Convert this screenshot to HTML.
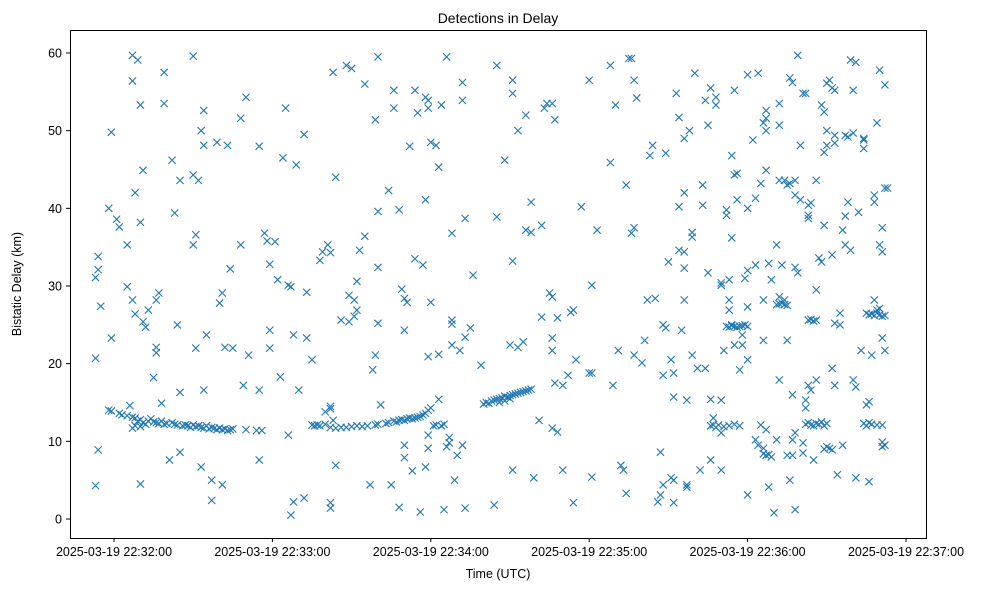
<!DOCTYPE html>
<html><head><meta charset="utf-8"><style>
body{margin:0;background:#fff;}
svg{display:block;font-family:"Liberation Sans","DejaVu Sans",sans-serif;}
</style></head><body>
<svg id="chart" width="987" height="590" viewBox="0 0 987 590">
<rect width="987" height="590" fill="#fff"/>
<text x="498" y="23" text-anchor="middle" font-size="14">Detections in Delay</text>
<text x="498" y="578" text-anchor="middle" font-size="12.5">Time (UTC)</text>
<text transform="translate(21,284) rotate(-90)" text-anchor="middle" font-size="12.5">Bistatic Delay (km)</text>
<g id="marks"></g>
<g id="axes"></g>
<rect x="70.5" y="30.5" width="856" height="508" fill="none" stroke="#000" stroke-width="1"/>
</svg>
<script>
const xTickSeconds=[0,60,120,180,240,300];
const xTickLabels=["2025-03-19 22:32:00","2025-03-19 22:33:00","2025-03-19 22:34:00","2025-03-19 22:35:00","2025-03-19 22:36:00","2025-03-19 22:37:00"];
const yTicks=[0,10,20,30,40,50,60];
const noisePoints=[[-7,4.3],[-7,20.7],[-7,31.1],[-6,32.1],[-6,33.8],[-5,27.4],[-6,8.9],[-2,40.0],[-1,49.8],[-1,23.3],[1,38.6],[2,37.6],[5,35.3],[5,29.9],[7,59.7],[7,56.4],[9,59.1],[10,53.3],[11,44.9],[8,42],[10,38.2],[7,28.2],[8,26.4],[11,25.4],[12,24.7],[13,26.9],[16,28.2],[17,29.1],[16,22.1],[16,21.4],[15,18.2],[19,57.5],[19,53.5],[18,14.9],[10,4.5],[21,7.6],[22,46.2],[23,39.4],[24,25.0],[25,8.6],[25,16.3],[25,43.6],[30,59.6],[30,44.3],[32,43.6],[30,35.3],[31,36.6],[31,22.0],[33,50.0],[34,52.6],[34,48.1],[35,23.7],[37,2.4],[37,5.0],[39,48.5],[41,29.1],[40,27.8],[41,4.4],[42,22.1],[33,6.7],[34,16.6],[43,48.1],[44,32.2],[45,22.0],[48,35.3],[48,51.6],[50,54.3],[51,21.1],[49,17.2],[55,48.0],[55,16.6],[55,7.6],[57,36.8],[58,35.8],[59,32.8],[59,22.0],[59,24.3],[61,35.7],[62,30.8],[63,18.3],[64,46.5],[65,52.9],[66,10.8],[66,30.1],[67,29.9],[69,45.6],[68,23.7],[67,0.5],[68,2.2],[70,16.6],[72,49.5],[72,2.7],[73,23.3],[73,29.2],[75,20.5],[78,33.3],[79,34.4],[81,35.3],[82,34.3],[83,57.5],[84,44.0],[82,14.5],[83,12.7],[84,6.9],[82,1.4],[82,2.1],[86,25.6],[88,58.4],[90,58.0],[89,28.8],[91,28.2],[91,26.1],[92,26.9],[89,25.4],[93,34.6],[92,30.6],[95,56.0],[95,36.4],[97,4.4],[98,19.2],[99,51.4],[99,21.1],[100,59.5],[100,39.6],[100,32.4],[100,25.2],[101,14.7],[104,42.3],[105,4.4],[106,55.2],[106,52.9],[108,39.8],[108,1.5],[109,29.6],[110,28.4],[110,24.3],[110,9.5],[110,7.9],[111,27.9],[112,48.0],[113,6.2],[114,55.2],[115,52.3],[114,33.5],[116,0.9],[117,32.7],[118,41.1],[118,54.3],[119,53.9],[119,52.9],[118,6.7],[119,9.1],[119,10.8],[119,20.9],[120,48.5],[120,27.9],[122,48.1],[123,21.2],[123,45.3],[123,15.4],[124,53.3],[125,1.2],[126,59.5],[128,36.8],[128,25.6],[128,25.1],[128,22.4],[129,5.0],[130,8.2],[131,21.7],[133,1.4],[132,9.5],[132,53.9],[132,56.2],[133,23.4],[133,38.7],[135,24.6],[136,31.4],[139,19.8],[144,1.8],[145,58.4],[145,38.9],[148,46.2],[150,22.4],[151,6.3],[151,33.2],[151,54.8],[151,56.5],[153,50.0],[153,22.1],[155,22.8],[156,52.0],[156,37.2],[158,36.9],[158,40.8],[159,5.3],[162,37.8],[162,26.0],[161,12.7],[163,52.9],[164,53.5],[165,29.1],[166,53.5],[166,28.6],[166,23.3],[166,21.7],[166,11.7],[168,11.2],[167,17.5],[167,51.4],[168,25.9],[170,17.2],[170,6.3],[172,18.5],[173,26.6],[174,26.9],[174,2.1],[175,20.5],[177,40.2],[180,56.5],[180,18.8],[181,18.8],[181,30.1],[181,5.4],[183,37.2],[188,45.9],[188,58.4],[189,17.2],[190,53.3],[191,21.7],[192,6.9],[193,6.3],[194,3.3],[194,43.0],[195,59.3],[196,59.3],[197,56.5],[198,54.2],[196,36.8],[197,37.5],[197,21.1],[200,20.1],[201,23.0],[202,28.2],[203,46.8],[204,48.1],[205,28.4],[206,2.2],[207,8.6],[207,3.1],[208,4.4],[208,18.5],[208,25.0],[209,24.6],[209,47.1],[210,33.1],[211,20.5],[211,5.3],[212,2.1],[212,5.0],[212,18.8],[212,15.7],[213,54.8],[214,51.7],[214,40.2],[214,34.6],[216,34.4],[216,32.3],[216,28.2],[215,24.3],[216,42.0],[216,49.0],[217,4.4],[217,4.1],[217,15.3],[218,50.0],[219,21.1],[219,36.3],[219,36.9],[220,57.4],[221,19.4],[222,6.3],[223,40.4],[223,43.0],[224,53.9],[224,19.4],[225,31.7],[225,50.7],[226,7.6],[226,15.4],[226,55.5],[227,12.1],[227,13.0],[228,53.3],[228,54.3],[230,30.1],[230,30.4],[230,11.1],[230,15.3],[230,6.3],[231,21.7],[232,39.8],[232,39.1],[233,30.8],[233,28.2],[233,26.9],[234,46.8],[234,36.2],[234,25.0],[235,44.3],[235,55.2],[236,44.5],[236,41.1],[235,22.4],[237,19.2],[238,22.4],[238,23.7],[239,31.0],[240,3.1],[240,57.2],[240,32.0],[240,20.5],[240,27.3],[240,40.0],[242,48.8],[243,10.2],[243,41.3],[243,32.7],[244,9.5],[244,57.4],[245,43.2],[245,12.1],[246,28.2],[246,23.0],[246,9.1],[246,51.0],[247,52.6],[247,51.6],[247,50.0],[247,44.9],[247,11.5],[248,4.1],[248,32.9],[249,30.8],[250,0.8],[251,10.2],[251,35.3],[252,50.7],[252,43.6],[252,53.5],[252,17.9],[252,28.6],[253,32.7],[254,28.2],[254,43.6],[255,8.2],[255,43.0],[255,23.0],[256,43.2],[256,56.8],[256,5.0],[257,10.2],[257,16.0],[257,56.2],[257,8.2],[258,1.2],[258,43.6],[258,41.7],[258,11.1],[259,59.7],[258,32.4],[259,31.7],[260,41.1],[260,48.1],[261,8.5],[261,54.8],[261,9.8],[262,14.3],[262,54.8],[262,15.3],[263,39.1],[263,38.7],[263,40.4],[263,17.2],[264,16.6],[264,40.7],[265,7.6],[266,17.9],[266,43.6],[266,29.5],[267,33.6],[268,33.1],[268,53.3],[269,52.4],[269,47.2],[269,37.8],[270,50.0],[270,48.1],[270,56.1],[271,56.5],[272,55.5],[273,55.2],[273,48.4],[272,34.0],[272,19.4],[273,17.2],[273,49.4],[273,25.2],[275,26.5],[274,5.7],[275,25.0],[276,9.5],[276,37.2],[277,49.4],[278,49.2],[278,40.8],[277,39.0],[277,35.3],[279,34.6],[280,49.7],[280,17.9],[281,17.0],[281,5.3],[279,59.1],[280,55.2],[281,58.8],[282,39.5],[283,21.7],[284,47.7],[284,49.0],[284,48.8],[286,15.1],[285,14.7],[286,4.8],[287,21.1],[288,41.7],[288,40.8],[288,28.2],[289,51.0],[289,26.9],[290,57.8],[290,35.3],[291,37.5],[291,34.4],[291,12.1],[291,23.3],[290,27.1],[291,9.9],[292,55.9],[292,42.6],[293,42.6],[292,21.7],[291,9.3],[292,9.5],[289,12.1]];
const track1=[[-2,14.0],[-1,13.9],[2,13.6],[3,13.4],[5,13.3],[7,13.1],[8,13.0],[9,12.6],[10,12.8],[11,12.4],[12,12.2],[13,12.6],[14,12.9],[15,12.5],[16,12.4],[17,12.3],[18,12.6],[19,12.2],[20,12.3],[22,12.4],[23,12.2],[24,12.1],[26,12.0],[27,12.1],[28,12.0],[29,11.8],[30,12.1],[31,11.9],[32,12.0],[33,11.8],[34,11.7],[35,12.0],[36,11.6],[37,11.8],[38,11.7],[39,11.5],[40,11.7],[41,11.5],[42,11.6],[43,11.4],[44,11.5],[45,11.6],[7,11.7],[8,12.0],[10,11.9],[6,14.6],[50,11.5],[54,11.4],[56,11.4]];
const track2=[[75,12.1],[76,12.0],[77,12.1],[78,12.0],[80,12.2],[82,11.8],[84,11.7],[86,11.8],[88,11.8],[90,11.9],[92,12.0],[94,11.9],[96,12.0],[99,12.1],[100,12.2],[103,12.3],[104,12.4],[106,12.6],[107,12.5],[108,12.7],[109,12.8],[110,12.7],[111,12.9],[112,13.0],[113,12.9],[114,13.0],[115,13.1],[116,13.2],[117,13.4],[118,13.6],[119,14.0],[120,14.3],[80,13.8],[82,14.2],[121,12.0],[122,12.1],[124,12.0],[125,12.2],[127,10.5],[127,9.8],[126,9.3]];
const track3=[[140,14.8],[141,15.0],[142,14.9],[143,15.2],[144,15.3],[145,15.4],[146,15.5],[147,15.6],[148,15.8],[149,15.7],[150,15.9],[151,16.0],[152,16.1],[153,16.2],[154,16.3],[155,16.4],[156,16.5],[157,16.6],[158,16.7],[146,15.0],[148,15.2],[150,15.5]];
const clusterPoints=[[232,24.8],[233,24.7],[234,24.9],[235,24.8],[236,24.7],[237,24.8],[238,24.9],[239,25.0],[240,24.8],[251,27.6],[252,27.7],[253,27.8],[254,27.6],[255,27.5],[263,25.6],[264,25.7],[265,25.5],[266,25.6],[226,12.0],[228,11.8],[229,12.1],[231,11.9],[233,12.0],[235,12.2],[237,12.0],[246,8.4],[247,8.2],[248,8.3],[249,8.0],[262,12.2],[263,12.4],[264,12.1],[265,12.0],[266,12.3],[267,12.2],[268,12.5],[269,12.0],[270,12.3],[269,9.0],[270,9.3],[271,9.1],[272,8.9],[285,26.5],[286,26.3],[287,26.4],[288,26.2],[289,26.5],[290,26.3],[291,26.1],[292,26.2],[284,12.3],[285,12.0],[286,12.4],[287,12.2]];

const NS="http://www.w3.org/2000/svg";
function xScale(t){return 114+t*(792/300);}
function yScale(d){return 519-d*(466/60);}
const axes=document.getElementById('axes');
xTickSeconds.forEach((s,i)=>{
  const x=xScale(s);
  const l=document.createElementNS(NS,'line');
  l.setAttribute('x1',x);l.setAttribute('x2',x);l.setAttribute('y1',538);l.setAttribute('y2',542);l.setAttribute('stroke','#000');
  
  
  axes.appendChild(l);
  const tx=document.createElementNS(NS,'text');
  tx.setAttribute('x',x);tx.setAttribute('y',556);tx.setAttribute('text-anchor','middle');tx.setAttribute('font-size','12.5');
  tx.textContent=xTickLabels[i];
  
  
  axes.appendChild(tx);
});
yTicks.forEach(v=>{
  const y=yScale(v);
  const l=document.createElementNS(NS,'line');
  l.setAttribute('x1',66);l.setAttribute('x2',70);l.setAttribute('y1',y);l.setAttribute('y2',y);l.setAttribute('stroke','#000');
  
  
  axes.appendChild(l);
  const tx=document.createElementNS(NS,'text');
  tx.setAttribute('x',62);tx.setAttribute('y',y+4.5);tx.setAttribute('text-anchor','end');tx.setAttribute('font-size','12.5');
  tx.textContent=String(v);
  
  
  axes.appendChild(tx);
});
const marks=document.getElementById('marks');
const r=3.6;
[noisePoints,track1,track2,track3,clusterPoints].forEach(arr=>arr.forEach(p=>{
  const x=xScale(p[0]),y=yScale(p[1]);
  const path=document.createElementNS(NS,'path');
  path.setAttribute('d',`M${x-r},${y-r}L${x+r},${y+r}M${x-r},${y+r}L${x+r},${y-r}`);
  path.setAttribute('stroke','#1f77b4');path.setAttribute('stroke-width','1.1');path.setAttribute('fill','none');
  
  
  marks.appendChild(path);
}));
</script>
</body></html>
